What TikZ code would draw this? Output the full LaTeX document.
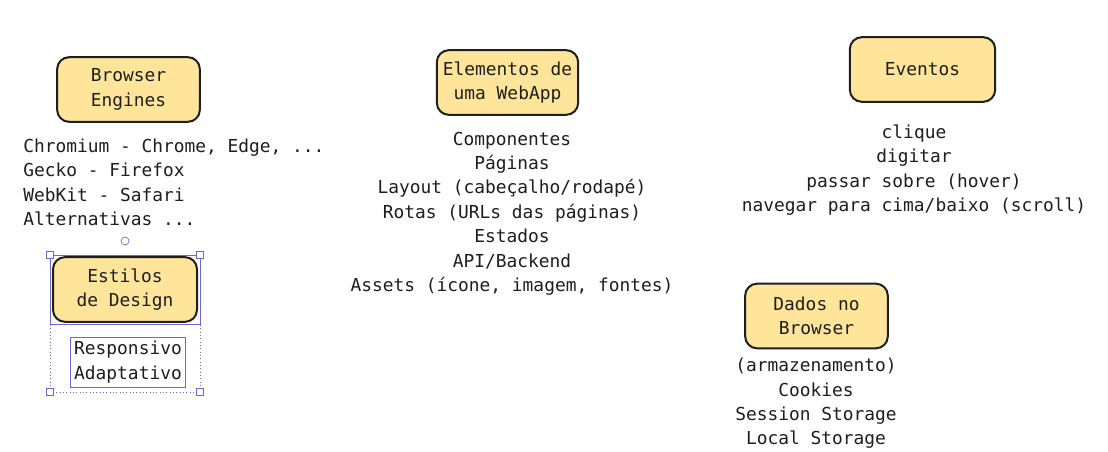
\documentclass[tikz,border=0pt]{standalone}
\usepackage{fontspec}
\setmonofont{DejaVu Sans Mono}
\definecolor{caixa}{HTML}{FFE599}
\definecolor{tinta}{HTML}{1E1E1E}
\definecolor{selecao}{HTML}{6965DB}
\newcommand{\fonteesboco}{\ttfamily\fontsize{13.4}{18.3}\selectfont}
\begin{document}
\begin{tikzpicture}[x = 0.75pt, y = -0.75pt,
	topico/.style = {draw = tinta, line width = 1.5pt, fill = caixa, rounded corners = 9pt, minimum width = #1, minimum height = 48.5pt, align = center, text = tinta, font = \fonteesboco},
	lista/.style = {text = tinta, font = \fonteesboco, inner sep = 0pt},
	alca/.style = {draw = selecao, fill = white, line width = 0.5pt, minimum size = 5pt, inner sep = 0pt}]
	\useasboundingbox[fill = white] (0, 0) rectangle (1108, 452);
	% caixas dos topicos
	\node[topico = 107pt] (engines) at (128.5, 89.5) {Browser\\Engines};
	\node[topico = 106pt] (webapp) at (507.5, 82.5) {Elementos de\\uma WebApp};
	\node[topico = 109pt] (eventos) at (922.5, 69.5) {Eventos};
	\node[topico = 107pt] (dados) at (816.5, 316) {Dados no\\Browser};
	\node[topico = 108pt] (estilos) at (125, 289.5) {Estilos\\de Design};
	% listas
	\node[lista, anchor = west, align = left] (listaengines) at (23, 182.5) {Chromium - Chrome, Edge, ...\\Gecko - Firefox\\WebKit - Safari\\Alternativas ...};
	\node[lista, align = center] (listawebapp) at (512, 213.5) {Componentes\\Páginas\\Layout (cabeçalho/rodapé)\\Rotas (URLs das páginas)\\Estados\\API/Backend\\Assets (ícone, imagem, fontes)};
	\node[lista, align = center] (listaeventos) at (914, 170) {clique\\digitar\\passar sobre (hover)\\navegar para cima/baixo (scroll)};
	\node[lista, align = center] (listadados) at (816, 403.5) {(armazenamento)\\Cookies\\Session Storage\\Local Storage};
	\node[lista, draw = selecao, line width = 0.5pt, inner sep = 3pt, align = left] (listaestilos) at (128, 362) {Responsivo\\Adaptativo};
	% selecao
	\draw[selecao, line width = 0.5pt] (50, 255) rectangle (200, 324);
	\draw[selecao, line width = 0.5pt, dotted] (50, 255) rectangle (200, 392);
	\foreach \cx/\cy in {50/255, 200/255, 50/392, 200/392}
		\node[alca] (alca\cx\cy) at (\cx, \cy) {};
	\node[alca, circle, minimum size = 6pt] (girar) at (125, 241) {};
\end{tikzpicture}
\end{document}
